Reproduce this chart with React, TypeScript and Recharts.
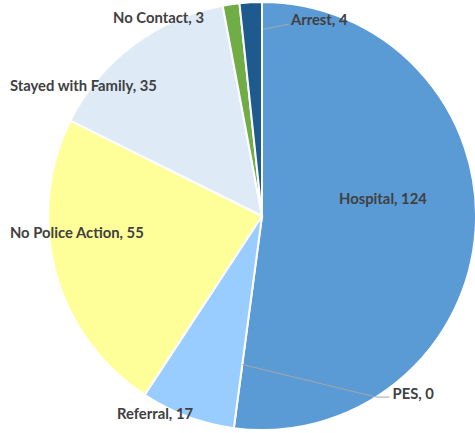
import React from "react";
import { PieChart, Pie, Cell } from "recharts";

const categories = ["Hospital", "PES", "Referral", "No Police Action", "Stayed with Family", "No Contact", "Arrest"];
const values = [124, 0, 17, 55, 35, 3, 4];
const colors = ["#5B9BD5", "#5B9BD5", "#99CCFF", "#FFFF99", "#DEEBF7", "#70AD47", "#1F5A8F"];

const data = categories.map((name, i) => ({ name, value: values[i] }));

// label anchor offsets relative to the pie centre, in units of the outer radius
const labelOffsets: [number, number][] = [
  [0.36, -0.073],
  [0.61, 0.837],
  [-0.678, 0.932],
  [-1.178, 0.083],
  [-1.178, -0.603],
  [-0.696, -0.92],
  [0.135, -0.91],
];

const renderLabel = (props: any) => {
  const { cx, cy, outerRadius, midAngle, index } = props;
  const RAD = Math.PI / 180;
  const [fx, fy] = labelOffsets[index];
  const x = cx + fx * outerRadius;
  const y = cy + fy * outerRadius;
  const text = `${categories[index]}, ${values[index]}`;
  let line = null;
  if (index === 1) {
    const sx = cx + 0.7 * outerRadius * Math.cos(-midAngle * RAD);
    const sy = cy + 0.7 * outerRadius * Math.sin(-midAngle * RAD);
    line = (
      <polyline
        points={`${sx},${sy} ${x - 16},${y + 2} ${x - 3},${y + 2}`}
        fill="none"
        stroke="#A6A6A6"
        strokeWidth={1}
      />
    );
  }
  if (index === 6) {
    const sx = cx + 1;
    const sy = cy - 0.872 * outerRadius;
    line = (
      <polyline points={`${sx},${sy} ${x - 2},${y + 3}`} fill="none" stroke="#A6A6A6" strokeWidth={1} />
    );
  }
  return (
    <g key={`lbl-${index}`}>
      {line}
      <text
        x={x}
        y={y}
        textAnchor="start"
        dominantBaseline="middle"
        fill="#404040"
        fontFamily="Lato, 'Open Sans', sans-serif"
        fontWeight="bold"
        fontSize={14.8}
      >
        {text}
      </text>
    </g>
  );
};

export default function App() {
  return (
    <div style={{ position: "absolute", left: 0, top: 0, width: 475, height: 433, background: "#fff" }}>
      <PieChart width={475} height={433} margin={{ top: 0, right: 0, bottom: 0, left: 0 }}>
        <Pie
          data={data}
          dataKey="value"
          cx={262}
          cy={216}
          outerRadius={214}
          startAngle={90}
          endAngle={-270}
          stroke="#FFFFFF"
          strokeWidth={2}
          isAnimationActive={false}
          label={renderLabel}
          labelLine={false}
        >
          {data.map((d, i) => (
            <Cell key={d.name} fill={colors[i]} />
          ))}
        </Pie>
      </PieChart>
    </div>
  );
}
